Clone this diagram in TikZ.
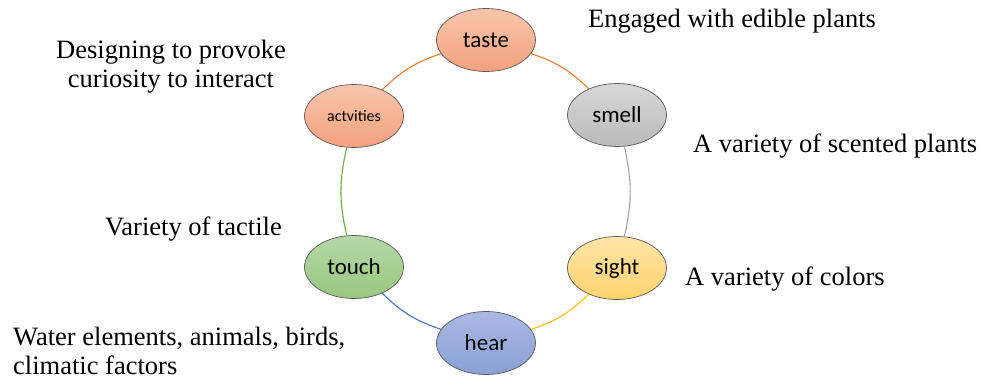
\documentclass[tikz,border=0pt]{standalone}
\usepackage{fontspec}
\setmainfont{Liberation Serif}
\newfontfamily\calibri{Carlito}
\usepackage{xcolor}
\usepackage{tikz}
\usetikzlibrary{shapes.geometric, positioning}

\definecolor{orangeline}{HTML}{ED7D31}
\definecolor{grayline}{HTML}{A5A5A5}
\definecolor{goldline}{HTML}{FFC000}
\definecolor{blueline}{HTML}{4472C4}
\definecolor{greenline}{HTML}{70AD47}

\begin{document}
\begin{tikzpicture}[x=1pt, y=-1pt,
    sense/.style={ellipse, draw=black!65, line width=0.7pt, minimum width=99pt,
      minimum height=63pt, inner sep=0pt, font=\calibri\fontsize{23}{26}\selectfont},
    note/.style={inner sep=0pt, font=\rmfamily\fontsize{26.5}{29}\selectfont},
    ring/.style={line width=1.1pt, bend left=13}]
  \useasboundingbox (0,0) rectangle (981,385);

  % the senses around the ring
  \node[sense, top color={rgb,255:red,248;green,198;blue,172}, bottom color={rgb,255:red,243;green,161;blue,124}]
        (taste) at (486,40) {taste};
  \node[sense, top color={rgb,255:red,216;green,216;blue,216}, bottom color={rgb,255:red,186;green,186;blue,186}]
        (smell) at (617,115) {smell};
  \node[sense, top color={rgb,255:red,255;green,229;blue,168}, bottom color={rgb,255:red,255;green,211;blue,110}]
        (sight) at (617,268) {sight};
  \node[sense, top color={rgb,255:red,170;green,185;blue,226}, bottom color={rgb,255:red,138;green,160;blue,214}]
        (hear) at (486,343) {hear};
  \node[sense, top color={rgb,255:red,182;green,216;blue,168}, bottom color={rgb,255:red,152;green,199;blue,126}]
        (touch) at (354,267) {touch};
  \node[sense, top color={rgb,255:red,248;green,198;blue,172}, bottom color={rgb,255:red,243;green,161;blue,124},
        font=\calibri\fontsize{16}{19}\selectfont]
        (act) at (354,116) {actvities};

  \draw[ring, orangeline] (taste) to (smell);
  \draw[ring, grayline] (smell) to (sight);
  \draw[ring, goldline] (sight) to (hear);
  \draw[ring, blueline] (hear) to (touch);
  \draw[ring, greenline] (touch) to (act);
  \draw[ring, orangeline] (act) to (taste);

  % descriptions
  \node[note, anchor=base west] (tastenote) at (588,28) {Engaged with edible plants};
  \node[note, anchor=base west] (smellnote) at (693,152) {A variety of scented plants};
  \node[note, anchor=base west] (sightnote) at (685,285) {A variety of colors};
  \node[note, anchor=base west] (touchnote) at (105,235) {Variety of tactile};
  \node[note, anchor=north, align=center] (actnote) at (171,40)
        {Designing to provoke\\curiosity to interact};
  \node[note, anchor=north west, align=left] (hearnote) at (13,327)
        {Water elements, animals, birds,\\climatic factors};
\end{tikzpicture}
\end{document}
